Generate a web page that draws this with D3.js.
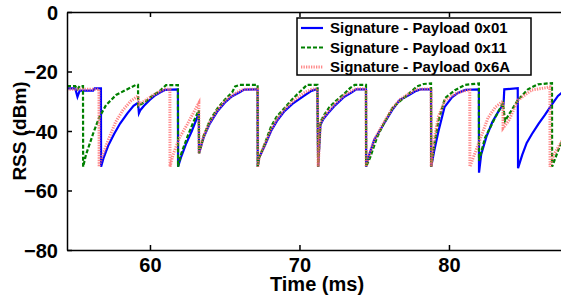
<!DOCTYPE html>
<html>
<head>
<meta charset="utf-8">
<script src="https://cdn.jsdelivr.net/npm/d3@7/dist/d3.min.js"></script>
<style>
  html, body { margin: 0; padding: 0; background: #fff; overflow: hidden; }
  text { font-family: "Liberation Sans", Arial, sans-serif; font-weight: bold; }
</style>
</head>
<body>
<div id="chart"></div>
<script>
// RSS traces, [time (ms), RSS (dBm)]
var payload01 = [
	[54.45,-25.7],[55.0,-25.7],[55.15,-28.5],[55.3,-26.4],[56.2,-26.4],[56.3,-25.7],[56.72,-25.7],
	[56.73,-52],[56.9,-49],[57.2,-45],[57.6,-41],[58.0,-37.5],[58.5,-34],[58.9,-31.5],[59.2,-30.5],[59.26,-34],[59.35,-33],[59.6,-31.5],[60.0,-29.5],[60.3,-28.2],[60.7,-27],[61.0,-26.2],[61.87,-26],
	[61.88,-52],[62.1,-48.5],[62.4,-44.5],[62.8,-40],[63.27,-34],
	[63.28,-47.5],[63.6,-42],[64.0,-37.5],[64.5,-33.5],[65.0,-30.5],[65.5,-28.3],[66.0,-27],[66.3,-26.1],[67.2,-26],
	[67.21,-52],[67.3,-49],[67.7,-44.7],[68.1,-40],[68.5,-36.6],[69.0,-33.3],[69.6,-30.6],[70.3,-28.2],[70.8,-26.5],[71.2,-25.9],
	[71.25,-52],[71.4,-38],[71.6,-36],[72.0,-33.5],[72.4,-31.3],[73.0,-28.5],[73.5,-27],[73.8,-26],[74.45,-26],
	[74.46,-52],[74.6,-49],[75.0,-43],[75.6,-38],[76.2,-33],[76.7,-29.6],[77.3,-28],[77.8,-26.5],[78.1,-26],[78.8,-26],
	[78.81,-52],[79.0,-47],[79.3,-40],[79.7,-32],[80.2,-28.7],[80.6,-27.2],[81.1,-26.2],[82.0,-26],
	[82.01,-54],[82.15,-48],[82.5,-42],[82.9,-37],[83.3,-33.5],[83.65,-31],[83.7,-26],[84.6,-25.6],
	[84.62,-52.5],[84.9,-48],[85.2,-44],[85.55,-41],[86.0,-37.5],[86.42,-34.6],[86.9,-31],[87.29,-28.2],[87.6,-26.9]
];

var payload11 = [
	[54.45,-24.9],[55.0,-24.9],[55.15,-26],[55.3,-24.9],[55.52,-24.9],
	[55.53,-52],[55.72,-48],[56.19,-41],[56.59,-35.6],[57.06,-31.3],[57.73,-27.9],[58.39,-26.2],[59.06,-24.5],[59.2,-24.5],
	[59.21,-31.6],[59.73,-30],[60.2,-28],[60.67,-26.5],[61.07,-24.6],[61.87,-24.6],
	[61.88,-52],[62.1,-47.5],[62.5,-42],[62.9,-37],[63.27,-33],
	[63.28,-47.5],[63.6,-41.5],[64.0,-36.5],[64.5,-32.5],[65.0,-29.5],[65.5,-27],[65.7,-25],[66.0,-24.5],[67.2,-24.5],
	[67.21,-52],[67.3,-49],[67.7,-44],[68.1,-38.5],[68.5,-35],[69.0,-32.3],[69.6,-28.9],[70.3,-25.5],[70.5,-24.5],[71.2,-24.5],
	[71.25,-52],[71.4,-37],[71.6,-35],[72.0,-32],[72.4,-30],[73.0,-27.5],[73.4,-25.5],[73.7,-24.5],[74.45,-24.5],
	[74.46,-52],[74.72,-49],[75.2,-42],[75.59,-38],[76.25,-32],[77.19,-28],[77.86,-25],[78.3,-24.2],[78.8,-24],
	[78.81,-52],[79.0,-45],[79.3,-36.5],[79.73,-29],[80.4,-26.3],[81.07,-24.5],[82.0,-24],
	[82.01,-50],[82.41,-42.3],[83.08,-35.6],[83.61,-30.6],[83.75,-36.6],[84.62,-29.5],[85.28,-26],[85.95,-24.3],[86.89,-23.9],
	[86.9,-52],[87.29,-46.7],[87.6,-43]
];

var payload6A = [
	[54.45,-26],[56.59,-26],
	[56.6,-52],[56.8,-48.5],[57.26,-42.4],[57.7,-37],[58.19,-33],[58.7,-30],[59.2,-28.2],[59.26,-31],[59.6,-30],[60.2,-28],[60.7,-26.6],[61.0,-26],[61.33,-26],
	[61.34,-52],[61.54,-48],[62.0,-42],[62.47,-38],[63.0,-33],[63.27,-30.6],
	[63.28,-47.5],[63.6,-41.5],[64.0,-37],[64.5,-33],[65.0,-30],[65.5,-28],[66.0,-26.5],[66.3,-26],[67.2,-26],
	[67.21,-52],[67.3,-49],[67.7,-44.3],[68.1,-39.5],[68.5,-36],[69.0,-32.8],[69.6,-29.8],[70.3,-27.2],[70.8,-26],[71.2,-25.8],
	[71.25,-52],[71.4,-37.5],[71.6,-35.5],[72.0,-33],[72.4,-30.8],[73.0,-28],[73.5,-26.5],[73.8,-25.8],[74.45,-25.8],
	[74.46,-52],[74.6,-49],[75.0,-43],[75.6,-37.5],[76.2,-32.5],[76.7,-29.5],[77.3,-27.5],[77.8,-26],[78.8,-25.8],
	[78.81,-52],[79.0,-43],[79.3,-35],[79.73,-29.8],[80.4,-27.5],[81.0,-26.5],[81.39,-26.2],
	[81.4,-52],[81.94,-44.7],[82.61,-35.6],[83.1,-32],[83.61,-30],[83.62,-39],[84.0,-36.5],[84.62,-29.6],[85.55,-26.2],[86.42,-25.5],[86.75,-25.2],
	[86.76,-52],[87.0,-48],[87.6,-43]
];

var seriesNames = ["Signature - Payload 0x01", "Signature - Payload 0x11", "Signature - Payload 0x6A"];
var timeTicks = [60, 70, 80];
var rssTicks = [0, -20, -40, -60, -80];

var config = {
	width      : 561,
	height     : 296,
	left       : 67,
	top        : 12,
	bottom     : 250,
	pxPerMs    : 14.95,
	colors     : ["#0000ff", "#008000", "#ff6a6a"],
	dashes     : [null, "4,2", "1.3,1.2"],
	widths     : [2.2, 2.2, 3],
};

var series = [payload01, payload11, payload6A];

var svg = d3.select("#chart").append("svg")
	.attr("width", config.width)
	.attr("height", config.height);

// plot runs past the right edge of the picture
var xMin = 54.45, xMax = 88.2;
var x = d3.scaleLinear()
	.domain([xMin, xMax])
	.range([config.left, config.left + (xMax - xMin) * config.pxPerMs]);
var y = d3.scaleLinear()
	.domain([-80, 0])
	.range([config.bottom, config.top]);

var plotW = x.range()[1] - config.left;
var plotH = config.bottom - config.top;

svg.append("clipPath").attr("id", "plotClip")
	.append("rect")
	.attr("x", config.left).attr("y", config.top)
	.attr("width", plotW).attr("height", plotH);

var line = d3.line()
	.x(function(d) { return x(d[0]); })
	.y(function(d) { return y(d[1]); });

var traces = svg.append("g").attr("clip-path", "url(#plotClip)");
series.forEach(function(s, i) {
	traces.append("path")
		.datum(s)
		.attr("d", line)
		.attr("fill", "none")
		.attr("stroke", config.colors[i])
		.attr("stroke-opacity", i == 2 ? 0.8 : 1)
		.attr("stroke-width", config.widths[i])
		.attr("stroke-dasharray", config.dashes[i])
		.attr("stroke-linejoin", "miter");
});

// axes, ticks pointing inward like the original
var xAxisBottom = d3.axisBottom(x).tickValues(timeTicks).tickSizeInner(-5).tickSizeOuter(0).tickPadding(8);
var xAxisTop = d3.axisTop(x).tickValues(timeTicks).tickSizeInner(-5).tickSizeOuter(0).tickFormat("");
var yAxisLeft = d3.axisLeft(y).tickValues(rssTicks).tickSizeInner(-5).tickSizeOuter(0).tickPadding(9);

var gxb = svg.append("g").attr("transform", "translate(0," + config.bottom + ")").call(xAxisBottom);
var gxt = svg.append("g").attr("transform", "translate(0," + config.top + ")").call(xAxisTop);
var gyl = svg.append("g").attr("transform", "translate(" + config.left + ",0)").call(yAxisLeft);

[gxb, gxt, gyl].forEach(function(g) {
	g.selectAll("path, line").attr("stroke", "#000").attr("stroke-width", 1.5);
	g.selectAll("text").attr("fill", "#000").style("font-size", "20px")
		.style("font-family", "Liberation Sans, Arial, sans-serif").style("font-weight", "bold");
});
gyl.selectAll(".tick text").attr("dy", "0.36em");

svg.append("text")
	.attr("x", (config.left + 561) / 2 + 3)
	.attr("y", 291)
	.attr("text-anchor", "middle")
	.style("font-size", "20px")
	.text("Time (ms)");

svg.append("text")
	.attr("transform", "translate(26," + (config.top + plotH / 2) + ") rotate(-90)")
	.attr("text-anchor", "middle")
	.style("font-size", "19px")
	.text("RSS (dBm)");

// legend
var legend = svg.append("g").attr("transform", "translate(297,18)");
legend.append("rect")
	.attr("width", 234).attr("height", 57)
	.attr("fill", "#fff").attr("stroke", "#000").attr("stroke-width", 1.5);
seriesNames.forEach(function(name, i) {
	var rowY = 10 + i * 19.5;
	legend.append("line")
		.attr("x1", 4).attr("x2", 26)
		.attr("y1", rowY).attr("y2", rowY)
		.attr("stroke", config.colors[i])
		.attr("stroke-opacity", i == 2 ? 0.8 : 1)
		.attr("stroke-width", config.widths[i])
		.attr("stroke-dasharray", config.dashes[i]);
	legend.append("text")
		.attr("x", 33).attr("y", rowY)
		.attr("dy", "0.36em")
		.style("font-size", "15px")
		.text(name);
});
</script>
</body>
</html>
